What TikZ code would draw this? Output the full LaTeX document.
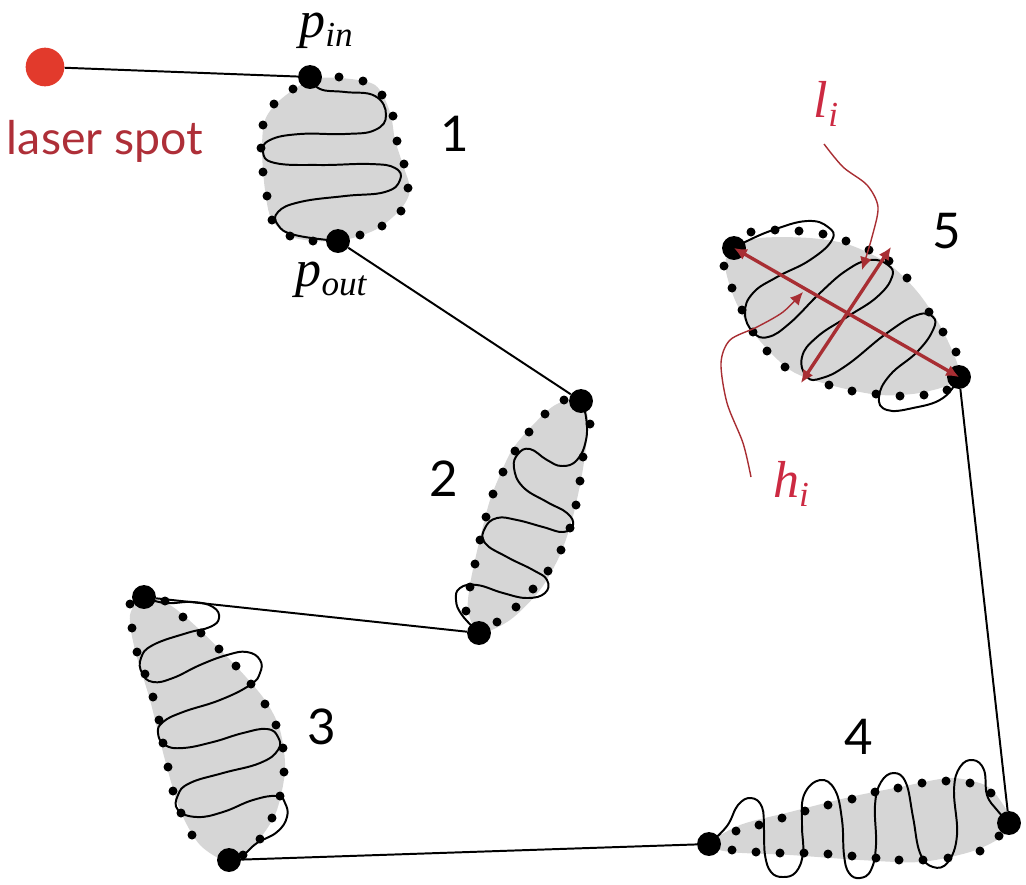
\documentclass[tikz,border=0pt]{standalone}
\usepackage{fontspec}
\setmainfont{Lato}
\newfontfamily\pfont{Liberation Serif}
\usetikzlibrary{arrows.meta,positioning}
\definecolor{mgray}{HTML}{D6D6D6}
\definecolor{mspot}{HTML}{E23A2C}
\definecolor{mlaser}{HTML}{AE2F38}
\definecolor{mdim}{HTML}{A82E33}
\definecolor{mlbl}{HTML}{CC2A42}
\newcommand{\plabel}[2]{{\pfont\itshape\fontsize{37}{37}\selectfont #1\raisebox{-6.5pt}{\fontsize{25}{25}\selectfont #2}}}
\tikzset{
  every node/.style={inner sep=0pt},
  blob/.style={fill=mgray, draw=none},
  track/.style={line width=1.4pt, draw=black, line join=round},
  lnk/.style={line width=1.4pt, draw=black},
  dot/.style={circle, fill=black, minimum size=6.4pt},
  bigdot/.style={circle, fill=black, minimum size=17pt},
  num/.style={font=\fontsize{35}{35}\selectfont, text=black},
  dimline/.style={{Latex[length=3.2mm,width=3mm]}-{Latex[length=3.2mm,width=3mm]}, line width=2.4pt, draw=mdim},
  callout/.style={-{Latex[length=3.2mm,width=3mm]}, line width=1pt, draw=mdim},
}
\begin{document}
\begin{tikzpicture}[x=0.025cm,y=-0.025cm]
\useasboundingbox (0,0) rectangle (1026,884);

% ============ grey regions ==================================================
\fill[blob] plot[smooth cycle] coordinates {(310,80) (340,78) (375,85) (390,112) (395,140) (403,165) (410,190) (400,210) (375,230) (338,241) (295,238) (272,220) (265,190) (262,150) (265,120) (280,100)};
\fill[blob] plot[smooth cycle] coordinates {(581,399) (588,420) (585,455) (580,485) (572,520) (560,555) (540,590) (510,620) (479,633) (468,610) (470,585) (475,560) (482,530) (490,500) (500,475) (512,450) (530,428) (555,405)};
\fill[blob] plot[smooth cycle] coordinates {(144,597) (170,605) (200,630) (235,665) (265,700) (280,730) (285,770) (275,815) (250,850) (229,862) (200,845) (180,810) (165,760) (150,700) (135,650) (130,615)};
\fill[blob] plot[smooth cycle] coordinates {(709,844) (740,825) (790,812) (850,797) (900,787) (950,778) (985,785) (1000,800) (1012,823) (1000,838) (970,852) (920,862) (860,860) (790,855) (730,852)};
\fill[blob] plot[smooth cycle] coordinates {(734,248) (760,238) (810,238) (850,245) (890,265) (920,295) (945,335) (959,377) (925,392) (880,395) (830,385) (790,370) (755,335) (735,300) (725,265)};

% ============ entry and exit points =========================================
\node[circle, fill=mspot, minimum size=27.5pt] (spot) at (45,67) {};
\node[bigdot] (in1) at (310,77) {};
\node[bigdot] (out1) at (338,241) {};
\node[bigdot] (in2) at (581,401) {};
\node[bigdot] (out2) at (479,633) {};
\node[bigdot] (in3) at (144,597) {};
\node[bigdot] (out3) at (229,860) {};
\node[bigdot] (in4) at (709,844) {};
\node[bigdot] (out4) at (1009,823) {};
\node[bigdot] (in5) at (959,377) {};
\node[bigdot] (out5) at (734,248) {};

% jumps
\draw[lnk] (spot) -- (in1);
\draw[lnk] (out1) -- (in2);
\draw[lnk] (out2) -- (in3);
\draw[lnk] (out3) -- (in4);
\draw[lnk] (out4) -- (in5);

% ============ contour dots ==================================================
\foreach [count=\k] \p in {(339,77),(363,81),(382,95),(393,116),(397,141),(404,164),(408,188),(401,211),(382,226),(360,235),(313,241),(290,236),(272,220),(267,196),(263,172),(261,148),(263,125),(274,104),(293,89)}{\node[dot] (a\k) at \p {};}
\foreach [count=\k] \p in {(564,400),(545,414),(529,432),(515,451),(503,472),(493,494),(486,517),(480,540),(475,564),(470,587),(466,611),(497,622),(516,607),(533,589),(548,571),(561,550),(570,528),(576,505),(580,481),(583,457),(590,424)}{\node[dot] (b\k) at \p {};}
\foreach [count=\k] \p in {(130,604),(132,628),(137,652),(145,674),(153,697),(159,720),(163,743),(168,767),(173,791),(181,813),(192,835),(165,601),(183,617),(201,633),(219,649),(236,666),(251,684),(265,704),(276,725),(283,748),(284,772),(280,796),(272,818),(260,839),(243,855)}{\node[dot] (c\k) at \p {};}
\foreach [count=\k] \p in {(732,850),(756,852),(780,853),(804,853),(828,854),(852,856),(876,858),(899,860),(923,860),(948,858),(980,851),(999,836),(736,831),(759,825),(782,818),(805,811),(828,805),(852,799),(875,792),(898,788),(922,783),(946,781),(970,783),(991,793)}{\node[dot] (d\k) at \p {};}
\foreach [count=\k] \p in {(751,232),(775,230),(799,231),(823,234),(846,241),(869,250),(889,261),(907,278),(929,312),(943,332),(956,352),(724,266),(732,288),(742,310),(753,332),(767,351),(785,367),(829,385),(852,391),(876,394),(900,396),(924,395),(947,390)}{\node[dot] (e\k) at \p {};}

% ============ scan tracks ===================================================
\draw[track] plot[smooth,tension=0.75] coordinates {(in1) (320,89) (345,92) (375,96) (386,115) (375,130) (345,134) (300,134) (270,140) (263,152) (275,163) (320,165) (370,164) (395,168) (400,180) (385,192) (345,196) (300,202) (278,212) (278,225) (295,235) (out1)};
\draw[track] plot[smooth,tension=0.75] coordinates {(in2) (586,417) (586,440) (577,460) (562,466) (547,460) (530,449) (518,454) (514,468) (523,487) (547,502) (567,513) (573,525) (563,532) (543,527) (517,520) (497,518) (485,528) (485,543) (507,557) (533,570) (547,580) (545,593) (527,598) (503,593) (477,585) (460,588) (456,600) (462,615) (out2)};
\draw[track] plot[smooth,tension=0.75] coordinates {(in3) (165,603) (193,602) (213,607) (219,618) (210,627) (187,633) (153,645) (141,658) (142,673) (153,682) (173,678) (200,665) (227,655) (247,652) (260,660) (260,673) (250,685) (220,700) (183,712) (163,722) (158,733) (165,745) (183,748) (213,742) (243,733) (267,729) (278,737) (278,750) (260,763) (223,773) (190,783) (178,795) (178,810) (197,817) (223,812) (253,800) (277,796) (285,803) (287,817) (277,832) (257,843) (243,855) (out3)};
\draw[track] plot[smooth,tension=0.7] coordinates {(in4) (727,826) (738,805) (751,798) (762,807) (764,830) (765,855) (771,872) (783,877) (796,872) (803,853) (802,825) (804,795) (820,780) (835,790) (842,820) (844,855) (849,873) (860,878) (871,870) (876,845) (875,805) (881,782) (894,773) (906,783) (913,817) (920,853) (933,867) (948,862) (957,835) (954,790) (960,767) (973,760) (984,770) (987,795) (997,810) (out4)};
\draw[track] plot[smooth,tension=0.75] coordinates {(in5) (943,398) (913,408) (887,410) (879,397) (890,375) (917,352) (933,330) (933,317) (917,315) (887,333) (847,365) (822,378) (807,377) (802,357) (817,337) (847,317) (877,297) (892,277) (888,265) (870,260) (847,270) (820,293) (790,323) (768,337) (753,332) (745,313) (753,293) (777,277) (810,260) (832,240) (828,227) (807,221) (773,230) (745,242) (out5)};

% ============ region sizes ==================================================
\coordinate (lstart) at (824,144);
\coordinate (hstart) at (751,477);
\draw[dimline] (out5.center) -- (in5.center);
\coordinate (wa) at (801,383);
\coordinate (wb) at (891,247);
\draw[dimline] (wa) -- (wb);
\draw[callout] plot[smooth] coordinates {(lstart) (843,167) (867,185) (878,207) (872,237) (862,270)};
\draw[callout] plot[smooth] coordinates {(hstart) (743,443) (727,403) (721,363) (730,340) (757,327) (783,312) (803,292)};

% ============ labels ========================================================
\node[font=\fontsize{33}{33}\selectfont, text=mlaser] (laser) at (105,141) {laser spot};
\node (pinlbl) at (326,31) {\plabel{p}{in}};
\node (poutlbl) at (331,280) {\plabel{p}{out}};
\node[text=mlbl] (llbl) at (826,104) {\plabel{l}{i}};
\node[text=mlbl] (hlbl) at (791,484) {\plabel{h}{i}};
\node[num] (n1) at (455,134) {1};
\node[num] (n2) at (444,479) {2};
\node[num] (n3) at (322,727) {3};
\node[num] (n4) at (859,737) {4};
\node[num] (n5) at (947,231) {5};
\end{tikzpicture}
\end{document}
